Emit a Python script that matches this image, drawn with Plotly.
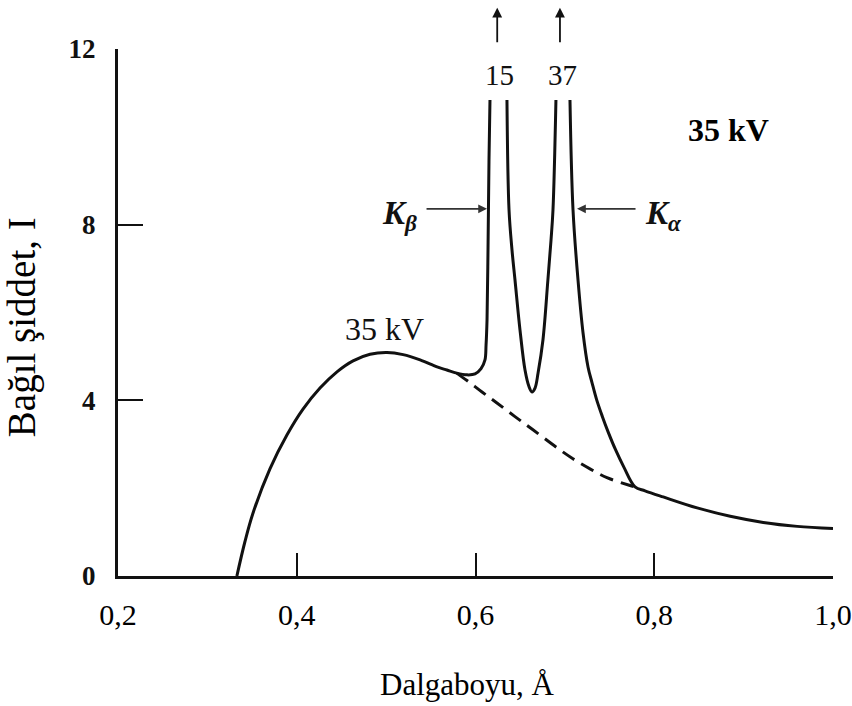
import plotly.graph_objects as go

# ---- data (wavelength in Å, relative intensity) ----
rise_x = [0.333, 0.342, 0.351, 0.370, 0.389, 0.407, 0.426, 0.445, 0.463, 0.482, 0.501, 0.519,
          0.538, 0.557, 0.568, 0.579, 0.5905, 0.5995, 0.6062, 0.6106, 0.6118, 0.6129,
          0.614, 0.6151, 0.6162]
rise_y = [0.0, 0.78, 1.43, 2.44, 3.21, 3.80, 4.28, 4.65, 4.90, 5.05, 5.09, 5.04,
          4.92, 4.76, 4.69, 4.62, 4.58, 4.60, 4.72, 4.92, 5.26, 5.83,
          7.43, 9.48, 10.84]

mid_x = [0.6352, 0.6375, 0.6408, 0.6442, 0.6498, 0.6554, 0.6599, 0.6632, 0.6666,
         0.670, 0.6755, 0.681, 0.6845, 0.6867, 0.690]
mid_y = [10.84, 8.34, 7.43, 6.74, 5.60, 4.69, 4.31, 4.19, 4.28,
         4.62, 5.38, 6.74, 7.65, 8.34, 10.84]

tail_x = [0.7057, 0.7091, 0.7147, 0.7203, 0.7259, 0.7304, 0.7356, 0.7418, 0.7488,
          0.7568, 0.7660, 0.7785, 0.7897, 0.810, 0.848, 0.885, 0.922, 0.960, 1.0]
tail_y = [10.84, 8.34, 6.74, 5.54, 4.76, 4.40, 4.01, 3.64, 3.26,
          2.87, 2.48, 2.03, 1.94, 1.80, 1.55, 1.36, 1.22, 1.13, 1.08]

cont_x = [0.579, 0.5905, 0.6073, 0.624, 0.6442, 0.6643, 0.6912, 0.709, 0.7281,
          0.7471, 0.7729, 0.7841]
cont_y = [4.62, 4.45, 4.19, 3.94, 3.63, 3.33, 2.92, 2.67, 2.44,
          2.24, 2.06, 1.99]

x_ticks = [0.2, 0.4, 0.6, 0.8, 1.0]
x_ticktext = ["0,2", "0,4", "0,6", "0,8", "1,0"]
y_ticks = [0, 4, 8, 12]
y_ticktext = ["0", "4", "8", "12"]

peak_labels = ["15", "37"]
peak_label_x = [0.6263, 0.6968]
arrow_x = [0.6243, 0.6945]

SERIF = "Liberation Serif"
INK = "#111111"

fig = go.Figure()
for xs, ys in [(rise_x, rise_y), (mid_x, mid_y), (tail_x, tail_y)]:
    fig.add_trace(go.Scatter(x=xs, y=ys, mode="lines",
                             line=dict(color=INK, width=3, shape="spline", smoothing=1.0),
                             showlegend=False, hoverinfo="skip"))
fig.add_trace(go.Scatter(x=cont_x, y=cont_y, mode="lines",
                         line=dict(color=INK, width=3, dash="14px,8px", shape="spline", smoothing=1.0),
                         showlegend=False, hoverinfo="skip"))

ann = []
for t, lx, ax_ in zip(peak_labels, peak_label_x, arrow_x):
    ann.append(dict(x=lx, y=11.41, xref="x", yref="y", text=t, showarrow=False,
                    font=dict(family=SERIF, size=29, color=INK)))
    ann.append(dict(x=ax_, y=12.94 / 12, xref="x", yref="paper", text="", showarrow=True,
                    ax=0, ay=36, arrowhead=2, arrowsize=1.1, arrowwidth=1.8, arrowcolor=INK))
# K beta / K alpha arrows and labels
ann.append(dict(x=0.6129, y=8.36, xref="x", yref="y", text="", showarrow=True,
                ax=-62, ay=0, arrowhead=2, arrowsize=1.1, arrowwidth=1.6, arrowcolor="#333"))
ann.append(dict(x=0.7136, y=8.36, xref="x", yref="y", text="", showarrow=True,
                ax=60, ay=0, arrowhead=2, arrowsize=1.1, arrowwidth=1.6, arrowcolor="#333"))
ann.append(dict(x=0.5155, y=8.2, xref="x", yref="y", showarrow=False,
                text="<b><i>K</i></b><sub><b><i>β</i></b></sub>",
                font=dict(family=SERIF, size=33, color=INK)))
ann.append(dict(x=0.8098, y=8.2, xref="x", yref="y", showarrow=False,
                text="<b><i>K</i></b><sub><b><i>α</i></b></sub>",
                font=dict(family=SERIF, size=33, color=INK)))
ann.append(dict(x=0.4987, y=5.62, xref="x", yref="y", showarrow=False, text="35 kV",
                font=dict(family=SERIF, size=32, color=INK)))
ann.append(dict(x=0.8836, y=10.16, xref="x", yref="y", showarrow=False, text="<b>35 kV</b>",
                font=dict(family=SERIF, size=32, color="#000")))
# axis titles
ann.append(dict(x=0.4895, y=-0.205, xref="paper", yref="paper", showarrow=False,
                text="Dalgaboyu, Å", xanchor="center", yanchor="middle",
                font=dict(family=SERIF, size=31, color="#000")))
ann.append(dict(x=-0.134, y=0.4725, xref="paper", yref="paper", showarrow=False,
                text="Bağıl şiddet, I", textangle=-90, xanchor="center", yanchor="middle",
                font=dict(family=SERIF, size=39, color="#000")))

fig.update_layout(
    width=852, height=706,
    margin=dict(l=118, r=19, t=49, b=130, autoexpand=False),
    paper_bgcolor="white", plot_bgcolor="white",
    annotations=ann,
    xaxis=dict(range=[0.2, 1.0], showgrid=False, zeroline=False, showline=True,
               linecolor=INK, linewidth=3, ticks="inside", ticklen=23, tickwidth=2.2,
               tickcolor=INK, tickvals=x_ticks, ticktext=x_ticktext, automargin=False,
               tickfont=dict(family=SERIF, size=30, color="#000"), ticklabelstandoff=10),
    yaxis=dict(range=[0, 12], showgrid=False, zeroline=False, showline=True,
               linecolor=INK, linewidth=3, ticks="inside", ticklen=25, tickwidth=2.2,
               tickcolor=INK, tickvals=y_ticks, ticktext=y_ticktext, automargin=False,
               tickfont=dict(family=SERIF, size=27, color="#111", weight="bold"),
               ticklabelstandoff=14),
)

fig.write_html("out.html")
